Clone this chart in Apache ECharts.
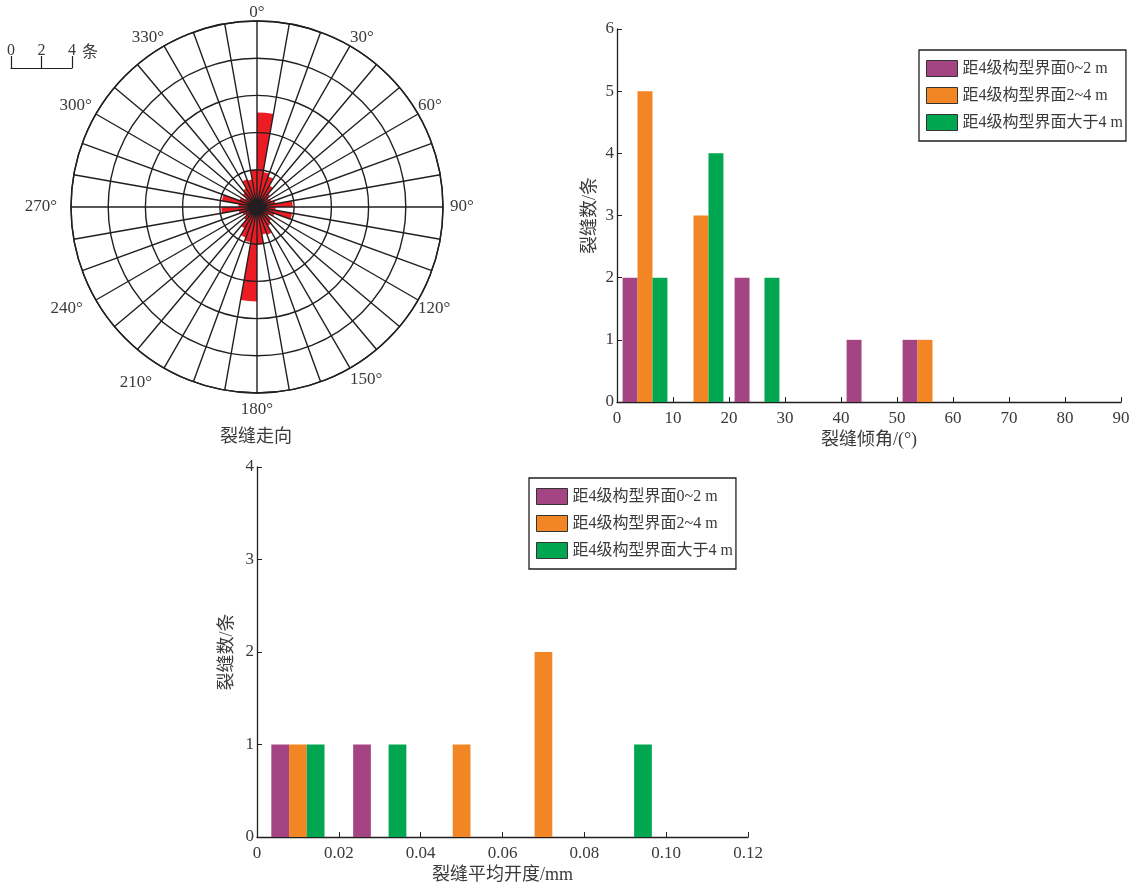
<!DOCTYPE html>
<html>
<head>
<meta charset="utf-8">
<title>裂缝统计</title>
<script src="https://cdn.jsdelivr.net/npm/echarts@6/dist/echarts.min.js"></script>
<style>
  html, body { margin: 0; padding: 0; background: #fff; overflow: hidden; }
  #main { width: 1143px; height: 885px; }
</style>
</head>
<body>
<div id="main"></div>
<script>
// 走向玫瑰图，每10°一个区间，从0°顺时针
var strikeBins = [];
for (var i = 0; i < 36; i++) strikeBins.push(i * 10 + '-' + (i * 10 + 10));
var strikeCount = [
  6.1, 2.3, 2.1, 1.6, 1.1, 0.9, 1.0, 1.2, 2.3, 1.2, 2.3, 1.2, 0.9, 1.2, 1.4, 1.9, 1.8, 2.4,
  6.1, 2.3, 2.1, 1.6, 1.1, 0.9, 1.0, 1.2, 2.3, 1.2, 2.3, 1.2, 0.9, 1.2, 1.4, 1.9, 1.8, 2.4
];

var seriesNames = ['距4级构型界面0~2 m', '距4级构型界面2~4 m', '距4级构型界面大于4 m'];
var colors = ['#A54483', '#F28524', '#00A650'];

// 倾角 0-90，10°一组
var dipBins = ['0-10', '10-20', '20-30', '30-40', '40-50', '50-60', '60-70', '70-80', '80-90'];
var dipNear = [2, 0, 2, 0, 1, 1, 0, 0, 0];
var dipMid = [5, 3, 0, 0, 0, 1, 0, 0, 0];
var dipFar = [2, 4, 2, 0, 0, 0, 0, 0, 0];

// 平均开度 0-0.12 mm，0.02一组
var apBins = ['0-0.02', '0.02-0.04', '0.04-0.06', '0.06-0.08', '0.08-0.10', '0.10-0.12'];
var apNear = [1, 1, 0, 0, 0, 0];
var apMid = [1, 0, 1, 2, 0, 0];
var apFar = [1, 1, 0, 0, 1, 0];

var font = "'Liberation Serif', 'Noto Sans CJK SC', serif";
var lineC = '#231f20';
var textC = '#3a3a3a';

// 角度标签微调（与原图位置对齐）
var angleRich = {
  a0: {}, a30: {}, a60: {}, a120: {}, a150: { padding: [3, 0, 0, 0] }, a330: {},
  a90: { padding: [0, 0, 0, 7] },
  a180: { padding: [8, 0, 0, 0] },
  a210: { padding: [6, 12, 0, 0] },
  a240: { padding: [0, 13, 0, 0] },
  a270: { padding: [0, 14, 0, 0] },
  a300: { padding: [0, 4, 0, 0] }
};
for (var k in angleRich) {
  angleRich[k].fontFamily = font;
  angleRich[k].fontSize = 17;
  angleRich[k].color = textC;
}

function legendOpt(left, top) {
  return {
    left: left, top: top, orient: 'vertical',
    data: seriesNames, selectedMode: false,
    icon: 'rect', itemWidth: 31, itemHeight: 16, itemGap: 10,
    padding: [10, 3, 10, 7],
    borderColor: lineC, borderWidth: 1.3,
    itemStyle: { borderColor: '#333', borderWidth: 1 },
    textStyle: { fontFamily: font, fontSize: 16, color: textC }
  };
}

function valueAxisX(grid, max, step, fmt, name, gap) {
  return {
    type: 'value', gridIndex: grid, position: 'bottom', min: 0, max: max, interval: step,
    axisLine: { lineStyle: { color: lineC, width: 1.3 } },
    axisTick: { inside: true, length: 5, lineStyle: { color: lineC } },
    axisLabel: { color: textC, fontFamily: font, fontSize: 17, margin: 8, formatter: fmt },
    splitLine: { show: false },
    name: name, nameLocation: 'middle', nameGap: gap,
    nameTextStyle: { color: textC, fontFamily: font, fontSize: 18 }
  };
}

function valueAxisY(grid, max, gap) {
  return {
    type: 'value', gridIndex: grid, min: 0, max: max, interval: 1,
    axisLine: { show: true, lineStyle: { color: lineC, width: 1.3 } },
    axisTick: { show: true, inside: true, length: 5, lineStyle: { color: lineC } },
    axisLabel: { color: textC, fontFamily: font, fontSize: 17, margin: 3 },
    splitLine: { show: false },
    name: '裂缝数/条', nameLocation: 'middle', nameGap: gap,
    nameTextStyle: { color: textC, fontFamily: font, fontSize: 18 }
  };
}

function barSeries(name, data, xi, yi, color, gap) {
  return {
    name: name, type: 'bar', xAxisIndex: xi, yAxisIndex: yi, data: data,
    barGap: '0%', barCategoryGap: gap, itemStyle: { color: color }
  };
}

var chart = echarts.init(document.getElementById('main'));
var option = {
  backgroundColor: '#fff',
  animation: false,
  textStyle: { fontFamily: font },
  polar: [
    { center: [257, 207], radius: 186 },
    { center: [257, 207], radius: 186 }
  ],
  angleAxis: [
    {
      polarIndex: 0, type: 'category', data: strikeBins, startAngle: 90, clockwise: true,
      axisLine: { show: false }, axisTick: { show: false }, axisLabel: { show: false },
      splitLine: { show: false }
    },
    {
      polarIndex: 1, type: 'value', min: 0, max: 360, interval: 10, startAngle: 90, clockwise: true, z: 10,
      axisLine: { lineStyle: { color: lineC, width: 1.4 } },
      axisTick: { show: false },
      axisLabel: {
        margin: 0, color: textC, fontFamily: font, fontSize: 17, rich: angleRich,
        formatter: function(v) {
          if (v % 30 !== 0 || v === 360) return '';
          return '{a' + v + '|' + v + '°}';
        }
      },
      splitLine: { lineStyle: { color: lineC, width: 1.4 } }
    }
  ],
  radiusAxis: [
    {
      polarIndex: 0, type: 'value', min: 0, max: 12,
      axisLine: { show: false }, axisTick: { show: false }, axisLabel: { show: false },
      splitLine: { show: false }
    },
    {
      polarIndex: 1, type: 'value', min: 0, max: 12, interval: 2.4, z: 10,
      axisLine: { show: false }, axisTick: { show: false }, axisLabel: { show: false },
      splitLine: { lineStyle: { color: lineC, width: 1.4 } }
    }
  ],
  grid: [
    { left: 617, top: 29, width: 504, height: 373 },
    { left: 257, top: 467, width: 491, height: 373 },
    // 比例尺
    { left: 11, top: 40, width: 61, height: 28 }
  ],
  legend: [legendOpt(919, 50), legendOpt(529, 478)],
  xAxis: [
    { type: 'category', gridIndex: 0, data: dipBins, show: false, position: 'bottom' },
    valueAxisX(0, 90, 10, null, '裂缝倾角/(°)', 29),
    { type: 'category', gridIndex: 1, data: apBins, show: false, position: 'bottom' },
    valueAxisX(1, 0.12, 0.02, function(v) { return v === 0 ? '0' : v.toFixed(2); }, '裂缝平均开度/mm', 29),
    {
      type: 'value', gridIndex: 2, min: 0, max: 4, interval: 2,
      axisLine: { lineStyle: { color: lineC, width: 1.2 } },
      axisTick: { inside: true, length: 12, lineStyle: { color: lineC, width: 1.2 } },
      axisLabel: { inside: true, margin: 9, color: textC, fontFamily: font, fontSize: 16 },
      splitLine: { show: false },
      name: '条', nameLocation: 'end', nameGap: 10,
      nameTextStyle: { color: textC, fontFamily: font, fontSize: 16, verticalAlign: 'bottom', lineHeight: 30 }
    }
  ],
  yAxis: [
    valueAxisY(0, 6, 18),
    valueAxisY(1, 4, 21),
    { type: 'value', gridIndex: 2, show: false }
  ],
  graphic: [
    {
      type: 'text', left: 220, top: 428,
      style: { text: '裂缝走向', font: '18px ' + font, fill: textC }
    }
  ],
  series: [
    {
      type: 'bar', coordinateSystem: 'polar', polarIndex: 0, data: strikeCount,
      barCategoryGap: '0%', itemStyle: { color: '#ED1C24' }, z: 2
    },
    barSeries(seriesNames[0], dipNear, 0, 0, colors[0], '20%'),
    barSeries(seriesNames[1], dipMid, 0, 0, colors[1], '20%'),
    barSeries(seriesNames[2], dipFar, 0, 0, colors[2], '20%'),
    barSeries(seriesNames[0], apNear, 2, 1, colors[0], '35%'),
    barSeries(seriesNames[1], apMid, 2, 1, colors[1], '35%'),
    barSeries(seriesNames[2], apFar, 2, 1, colors[2], '35%')
  ]
};
chart.setOption(option);
</script>
</body>
</html>
